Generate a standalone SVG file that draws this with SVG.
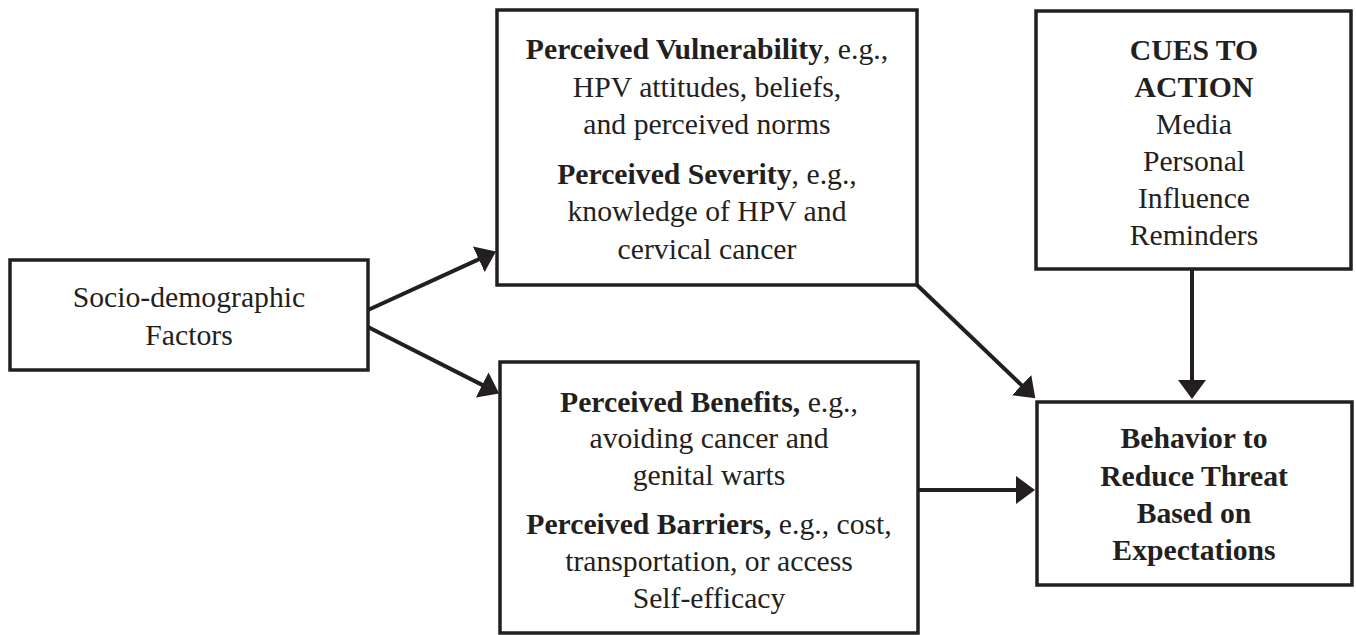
<svg xmlns="http://www.w3.org/2000/svg" width="1356" height="635" viewBox="0 0 1356 635">
<style>
.box{fill:#fff;stroke:#231f20;stroke-width:3.5}
.t{font-family:"Liberation Serif","Times New Roman",serif;font-size:29.7px;fill:#231f20;text-anchor:middle}
.b{font-weight:bold}
.c{fill:none;stroke:#231f20;stroke-width:4}
</style>
<defs>
<marker id="ah" viewBox="0 0 19 28" markerWidth="19" markerHeight="28" refX="1" refY="14" orient="auto" markerUnits="userSpaceOnUse">
<path d="M0,0 L19,14 L0,28 z" fill="#231f20"/>
</marker>
</defs>
<rect width="1356" height="635" fill="#fff"/>
<g id="connectors">
<line class="c" x1="368" y1="310" x2="479.7" y2="258.9" marker-end="url(#ah)"/>
<line class="c" x1="368" y1="327" x2="483.1" y2="385.4" marker-end="url(#ah)"/>
<line class="c" x1="917" y1="285" x2="1022.3" y2="385.9" marker-end="url(#ah)"/>
<line class="c" x1="1192" y1="269" x2="1192" y2="381" marker-end="url(#ah)"/>
<line class="c" x1="918" y1="490" x2="1017" y2="490" marker-end="url(#ah)"/>
</g>
<g id="socio">
<rect class="box" x="10" y="260" width="358" height="110"/>
<text class="t" x="189" y="307">Socio-demographic</text>
<text class="t" x="189" y="345">Factors</text>
</g>
<g id="vulnerability">
<rect class="box" x="497" y="10" width="420" height="275"/>
<text class="t" x="707" y="59"><tspan class="b">Perceived Vulnerability</tspan>, e.g.,</text>
<text class="t" x="707" y="97">HPV attitudes, beliefs,</text>
<text class="t" x="707" y="134">and perceived norms</text>
<text class="t" x="707" y="184"><tspan class="b">Perceived Severity</tspan>, e.g.,</text>
<text class="t" x="707" y="221">knowledge of HPV and</text>
<text class="t" x="707" y="259">cervical cancer</text>
</g>
<g id="cues">
<rect class="box" x="1036" y="11" width="315" height="258"/>
<text class="t b" x="1194" y="60">CUES TO</text>
<text class="t b" x="1194" y="97">ACTION</text>
<text class="t" x="1194" y="134">Media</text>
<text class="t" x="1194" y="171">Personal</text>
<text class="t" x="1194" y="208">Influence</text>
<text class="t" x="1194" y="245">Reminders</text>
</g>
<g id="benefits">
<rect class="box" x="500" y="362" width="418" height="271"/>
<text class="t" x="709" y="412"><tspan class="b">Perceived Benefits,</tspan> e.g.,</text>
<text class="t" x="709" y="448">avoiding cancer and</text>
<text class="t" x="709" y="485">genital warts</text>
<text class="t" x="709" y="534"><tspan class="b">Perceived Barriers,</tspan> e.g., cost,</text>
<text class="t" x="709" y="571">transportation, or access</text>
<text class="t" x="709" y="608">Self-efficacy</text>
</g>
<g id="behavior">
<rect class="box" x="1037" y="402" width="315" height="183"/>
<text class="t b" x="1194" y="448">Behavior to</text>
<text class="t b" x="1194" y="486">Reduce Threat</text>
<text class="t b" x="1194" y="523">Based on</text>
<text class="t b" x="1194" y="560">Expectations</text>
</g>
</svg>
